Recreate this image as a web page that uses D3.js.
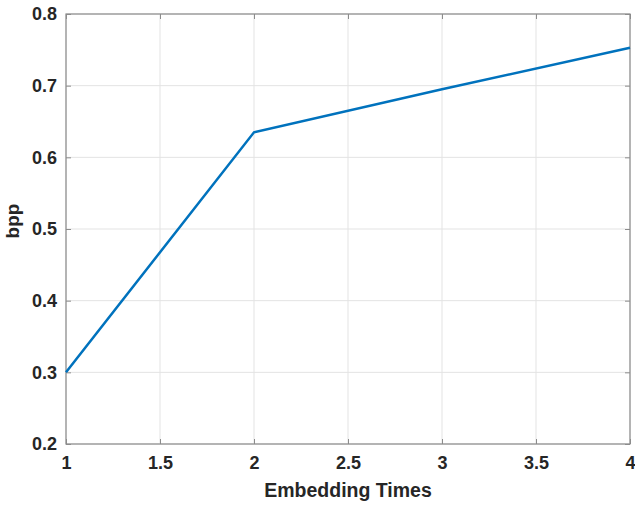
<!DOCTYPE html>
<html>
<head>
<meta charset="utf-8">
<script src="https://cdn.jsdelivr.net/npm/d3@7"></script>
<style>
  body { margin: 0; background: #fff; }
  text { font-family: "Liberation Sans", Arial, sans-serif; font-weight: bold; fill: #262626; }
</style>
</head>
<body>
<svg width="635" height="505"></svg>
<script>
var times = [1, 2, 3, 4];
var bpp = [0.3, 0.635, 0.695, 0.753];
var xTicks = [1, 1.5, 2, 2.5, 3, 3.5, 4];
var yTicks = [0.2, 0.3, 0.4, 0.5, 0.6, 0.7, 0.8];

var svg = d3.select("svg"),
    margin = {top: 14, right: 5, bottom: 61, left: 66},
    width = +svg.attr("width") - margin.left - margin.right,
    height = +svg.attr("height") - margin.top - margin.bottom;
var g = svg.append("g").attr("transform", "translate(" + margin.left + "," + margin.top + ")");

var x = d3.scaleLinear().domain([1, 4]).range([0, width]);
var y = d3.scaleLinear().domain([0.2, 0.8]).range([height, 0]);

// grid
g.append("g")
  .selectAll("line")
  .data(xTicks)
  .enter().append("line")
    .attr("x1", d => x(d)).attr("x2", d => x(d))
    .attr("y1", 0).attr("y2", height)
    .attr("stroke", "#e3e3e3").attr("stroke-width", 1);
g.append("g")
  .selectAll("line")
  .data(yTicks)
  .enter().append("line")
    .attr("y1", d => y(d)).attr("y2", d => y(d))
    .attr("x1", 0).attr("x2", width)
    .attr("stroke", "#e3e3e3").attr("stroke-width", 1);

// axes (ticks inward, MATLAB style)
function styleAxis(sel) {
  sel.select(".domain").remove();
  sel.selectAll(".tick line").attr("stroke", "#8c8c8c");
  sel.selectAll(".tick text").attr("fill", "#262626").style("font-size", "18px");
}
g.append("g")
  .attr("transform", "translate(0," + height + ")")
  .call(d3.axisBottom(x).tickValues(xTicks).tickSize(-5).tickPadding(12).tickFormat(d3.format("")))
  .call(styleAxis);
g.append("g")
  .call(d3.axisTop(x).tickValues(xTicks).tickSize(-5).tickFormat(""))
  .call(styleAxis);
g.append("g")
  .call(d3.axisLeft(y).tickValues(yTicks).tickSize(-5).tickPadding(9).tickFormat(d3.format(".1f")))
  .call(styleAxis);
g.append("g")
  .attr("transform", "translate(" + width + ",0)")
  .call(d3.axisRight(y).tickValues(yTicks).tickSize(-5).tickFormat(""))
  .call(styleAxis);

// box
g.append("rect")
  .attr("width", width).attr("height", height)
  .attr("fill", "none").attr("stroke", "#8c8c8c").attr("stroke-width", 1.2);

// line
var line = d3.line()
  .x((d, i) => x(times[i]))
  .y(d => y(d));
g.append("path")
  .datum(bpp)
  .attr("d", line)
  .attr("fill", "none")
  .attr("stroke", "#0072BD")
  .attr("stroke-width", 2.5);

// labels
svg.append("text")
  .attr("x", margin.left + width / 2)
  .attr("y", 497)
  .attr("text-anchor", "middle")
  .style("font-size", "19.5px")
  .text("Embedding Times");
svg.append("text")
  .attr("transform", "translate(19," + 221 + ") rotate(-90)")
  .attr("text-anchor", "middle")
  .style("font-size", "19px")
  .text("bpp");
</script>
</body>
</html>
